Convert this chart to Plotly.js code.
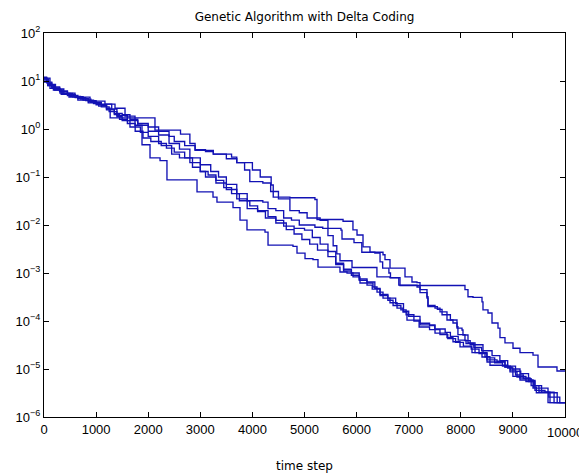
<!DOCTYPE html>
<html>
<head>
<meta charset="utf-8">
<script src="https://cdn.plot.ly/plotly-3.0.1.min.js"></script>
<style>html,body{margin:0;padding:0;background:#fff;}#chart{width:579px;height:475px;}</style>
</head>
<body>
<div id="chart"></div>
<script>
// Run 1 (plateau near 5e-4 between 6800 and 8100)
const run1X = [0,50,150,300,450,650,850,1000,1200,1350,1500,1650,1800,2000,2200,2400,2600,2800,3000,3200,3350,3500,3700,3900,4200,4300,4450,4600,4750,4900,5200,5350,5450,5550,5620,5681,5912,6390,6640,6833,8080,8138,8234,8407,8426,8522,8599,8714,8752,8848,9002,9136,9386,9482,9846,10000];
const run1Y = [12,9.5,7.2,6,5,4.3,3.7,3.2,2.5,2.1,2.0,1.6,1.2,0.9,0.75,0.5,0.38,0.25,0.18,0.13,0.1,0.07,0.045,0.032,0.03,0.022,0.02,0.014,0.0126,0.01,0.009,0.0085,0.006,0.0037,0.0025,0.0018,0.0013,8.3e-4,8e-4,5.5e-4,4.5e-4,3.2e-4,3.1e-4,2.5e-4,1.7e-4,1.47e-4,9.1e-5,7.1e-5,4.5e-5,3.5e-5,2.7e-5,2.2e-5,1.95e-5,1.1e-5,9.1e-6,9.1e-6];

// Run 2 (highest through the middle)
const run2X = [0,60,150,300,450,600,800,1000,1100,1200,1270,2130,2620,2800,2900,3250,3600,3700,4000,4150,4360,4400,4720,5200,5240,5740,5930,6008,6123,6257,6507,6545,6641,6871,6929,7063,7159,7217,7351,7370,7505,7601,7735,7850,7927,8023,8042,8138,8273,8426,8503,8695,8848,8983,9136,9328,9424,9616,9712,10000];
const run2Y = [11.5,9,7.5,6.2,5.2,4.5,3.9,3.5,3.1,2.7,1.7,0.95,0.78,0.5,0.36,0.3,0.26,0.2,0.14,0.1,0.068,0.038,0.037,0.034,0.013,0.012,0.0079,0.0062,0.0035,0.0027,0.0024,0.0019,0.00126,0.00126,8.3e-4,6.5e-4,6.3e-4,4.5e-4,3.2e-4,2.1e-4,1.86e-4,1.55e-4,1.05e-4,9.1e-5,7.1e-5,6.5e-5,5.1e-5,3.5e-5,3.2e-5,2.2e-5,1.55e-5,1.45e-5,1.1e-5,1.0e-5,6.5e-6,5.8e-6,3.6e-6,3.3e-6,2e-6,2e-6];

// Run 3
const run3X = [0,80,200,350,500,700,900,1100,1300,1400,1600,1800,2000,2200,2400,2500,2700,2900,3100,3250,3500,3700,3850,3950,4200,4350,4500,4720,4900,5050,5300,5450,5700,5720,5950,6100,6350,6450,6500,6620,6650,6810,7160,7217,7351,7370,7550,7640,7800,7927,7945,8080,8180,8273,8465,8560,8900,9000,9250,9400,9450,9850,10000];
const run3Y = [10.5,8,6.5,5.5,4.8,4.2,3.6,3.3,2.6,1.9,1.5,1.3,1.1,0.9,0.7,0.55,0.45,0.37,0.34,0.3,0.24,0.2,0.14,0.08,0.075,0.05,0.035,0.02,0.018,0.014,0.0125,0.0085,0.0078,0.0051,0.0043,0.0027,0.0026,0.0017,0.00126,0.001,7.9e-4,5.6e-4,5.1e-4,3.9e-4,3.0e-4,2.0e-4,1.75e-4,1.35e-4,1.05e-4,7.6e-5,5.2e-5,3.9e-5,3.2e-5,2.2e-5,1.8e-5,1.2e-5,1.05e-5,7e-6,5.5e-6,4.2e-6,3.2e-6,2e-6,2e-6];

// Run 4
const run4X = [0,70,180,330,480,650,850,1050,1200,1350,1450,1600,1750,1900,2050,2250,2450,2600,2800,3000,3100,3300,3500,3700,3900,4100,4250,4450,4600,4800,5000,5150,5300,5450,5600,5750,5900,6050,6200,6350,6450,6600,6750,6900,7000,7217,7400,7500,7700,7800,7950,8100,8250,8400,8600,8750,8900,9050,9150,9300,9420,9550,9790,10000];
const run4Y = [9.5,8,6.5,5.3,4.6,4.0,3.5,3.0,2.6,2.0,1.6,1.3,0.9,0.65,0.55,0.45,0.3,0.25,0.2,0.13,0.1,0.075,0.055,0.035,0.022,0.019,0.014,0.0125,0.0095,0.0085,0.0078,0.0055,0.004,0.0028,0.0015,0.0012,0.001,7.5e-4,6.5e-4,4.8e-4,3.6e-4,3.0e-4,2.3e-4,1.6e-4,1.25e-4,9e-5,8e-5,6.8e-5,5.8e-5,4.8e-5,4e-5,3.4e-5,2.8e-5,2.4e-5,1.9e-5,1.5e-5,1.15e-5,9e-6,8e-6,5.5e-6,4.5e-6,3.3e-6,2e-6,2e-6];

// Run 5 (fastest through the middle)
const run5X = [0,115,307,595,883,1170,1363,1555,1747,1881,2035,2227,2360,2937,3244,3320,3628,3762,3896,4242,4300,4779,4856,5010,5163,5259,5681,5816,5931,6065,6315,6392,6507,6641,6776,6891,6967,7217,7505,7735,7850,7985,8215,8407,8503,8848,8944,9079,9136,9386,9674,10000];
const run5Y = [11.5,7.0,5.6,4.6,3.8,3.3,2.7,1.85,1.2,0.47,0.25,0.22,0.087,0.049,0.038,0.030,0.023,0.0126,0.0079,0.0071,0.0038,0.0036,0.0026,0.0020,0.0019,0.00133,0.00105,0.001,8.3e-4,6.2e-4,5.1e-4,4.0e-4,3.0e-4,2.4e-4,1.86e-4,1.54e-4,1.04e-4,8.3e-5,5.6e-5,4.5e-5,3.7e-5,2.9e-5,2.2e-5,1.78e-5,1.4e-5,1.1e-5,8.7e-6,6.8e-6,5.9e-6,4.0e-6,2.0e-6,2.0e-6];

// Run 6
const run6X = [0,90,220,380,550,750,950,1100,1250,1400,1500,1650,1850,2000,2200,2350,2500,2700,2850,3000,3150,3300,3450,3600,3750,3950,4100,4300,4450,4650,4800,4950,5100,5250,5450,5600,5750,5900,6050,6200,6300,6450,6600,6700,6850,6950,7100,7200,7400,7600,7750,7900,8050,8200,8350,8500,8650,8800,8950,9050,9200,9350,9500,9690,9900,10000];
const run6Y = [11,8.5,6.8,5.5,4.7,4.0,3.4,2.9,2.3,1.8,1.5,1.1,0.85,0.7,0.5,0.4,0.33,0.25,0.16,0.13,0.11,0.085,0.06,0.045,0.032,0.025,0.02,0.015,0.011,0.008,0.0065,0.005,0.004,0.003,0.0022,0.0016,0.0011,9e-4,7e-4,5.6e-4,4.6e-4,3.4e-4,2.7e-4,2.1e-4,1.7e-4,1.35e-4,1.0e-4,7.5e-5,6.6e-5,5.2e-5,4.3e-5,3.6e-5,3.0e-5,2.6e-5,2.1e-5,1.7e-5,1.35e-5,1.15e-5,9.5e-6,7.5e-6,6.3e-6,4.5e-6,3.3e-6,2.6e-6,2e-6,2e-6];

const xTicks = [0,1000,2000,3000,4000,5000,6000,7000,8000,9000];
const xLastTick = 10000;
const yTickVals = [1e-6,1e-5,1e-4,1e-3,1e-2,1e-1,1,10,100];
const yTickText = ['10<sup>\u22126</sup>','10<sup>\u22125</sup>','10<sup>\u22124</sup>','10<sup>\u22123</sup>','10<sup>\u22122</sup>','10<sup>\u22121</sup>','10<sup>0</sup>','10<sup>1</sup>','10<sup>2</sup>'];
const runs = [[run1X,run1Y],[run2X,run2Y],[run3X,run3Y],[run4X,run4Y],[run5X,run5Y],[run6X,run6Y]];

const traces = runs.map(r => ({
  x: r[0], y: r[1], type: 'scatter', mode: 'lines',
  line: {color: '#1212b4', width: 1.35, shape: 'hv'},
  showlegend: false, hoverinfo: 'skip'
}));

const fam = 'Liberation Sans, Arial, sans-serif';
const tf = {family: fam, size: 13, color: '#000'};

const layout = {
  width: 579, height: 475,
  margin: {l: 44, r: 14, t: 33, b: 58},
  paper_bgcolor: '#fff', plot_bgcolor: '#fff',
  font: tf,
  showlegend: false,
  title: {text: 'Genetic Algorithm with Delta Coding', font: {family: 'DejaVu Sans, sans-serif', size: 12, color: '#000'}, x: 0.526, xanchor: 'center', y: 0.964, yanchor: 'middle'},
  xaxis: {
    range: [0, 10000], tickmode: 'array', tickvals: xTicks.concat([xLastTick]), ticktext: xTicks.map(String).concat(['']),
    ticks: 'inside', ticklen: 5, tickcolor: '#000', tickwidth: 1,
    showline: true, linecolor: '#000', linewidth: 1, mirror: 'ticks',
    showgrid: false, zeroline: false,
    tickfont: tf,
    title: {text: 'time step', font: {family: 'DejaVu Sans, sans-serif', size: 12, color: '#000'}, standoff: 26}
  },
  yaxis: {
    type: 'log', range: [-6, 2], tickmode: 'array', tickvals: yTickVals, ticktext: yTickText,
    ticks: 'inside', ticklen: 5, tickcolor: '#000', tickwidth: 1,
    showline: true, linecolor: '#000', linewidth: 1, mirror: 'ticks',
    showgrid: false, zeroline: false,
    tickfont: tf
  },
  annotations: [{
    text: String(xLastTick), x: xLastTick, xref: 'x', y: 0, yref: 'paper',
    xanchor: 'center', yanchor: 'top', yshift: -6, showarrow: false, font: tf
  }]
};

Plotly.newPlot('chart', traces, layout, {staticPlot: true, displayModeBar: false});
</script>
</body>
</html>
